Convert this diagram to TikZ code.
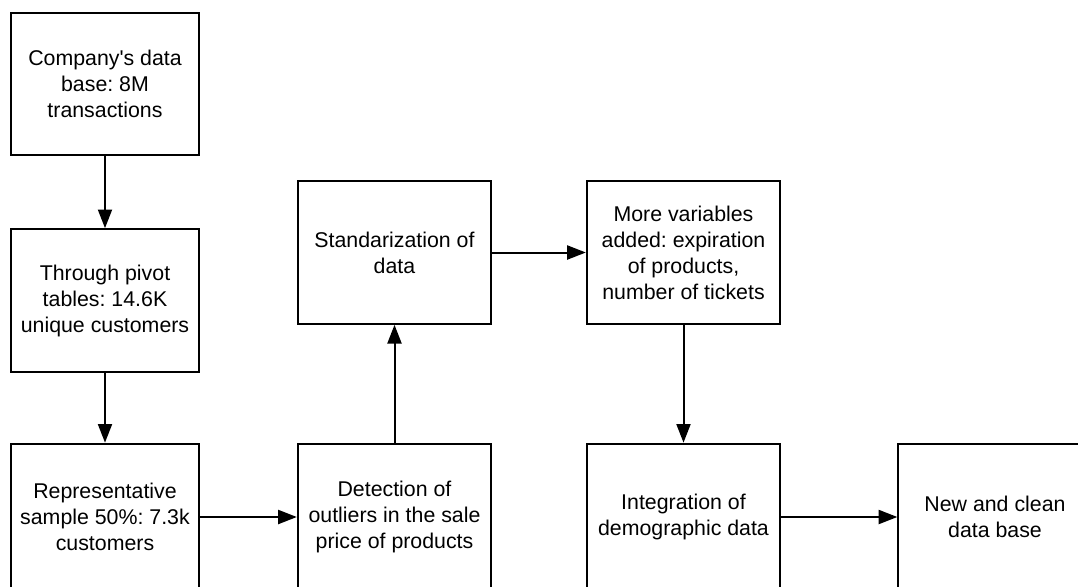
\documentclass[tikz,border=0pt]{standalone}
\usepackage{fontspec}
\setmainfont{Liberation Sans}[Ligatures=TeXOff]
\frenchspacing
\usetikzlibrary{arrows.meta}

\begin{document}
\begin{tikzpicture}[x=0.75pt,y=0.75pt,yscale=-1,
  box/.style={draw,line width=1.5pt,minimum width=145pt,minimum height=107pt,
    inner sep=0pt,align=center,font=\fontsize{16}{19.5}\selectfont},
  flow/.style={-{Triangle[length=14pt,width=10.5pt]},line width=1.5pt}]
%set diagram left start at 0, width 1078, height 586
\useasboundingbox (0,0) rectangle (1078,586);
\clip (0,0) rectangle (1078,586);

%First column
\node [box,minimum width=141pt] (company) at (105,84) {Company's data\\base: 8M\\transactions};
\node [box,minimum width=141pt] (pivot) at (105,300.5) {Through pivot\\tables: 14.6K\\unique customers};
\node [box,minimum width=141pt,minimum height=110pt] (sample) at (105,517) {Representative\\sample 50\%: 7.3k\\customers};

%Second column
\node [box,minimum height=110pt] (outliers) at (394.5,517) {Detection of\\outliers in the sale\\price of products};
\node [box] (standard) at (394.5,252.5) {Standarization of\\data};

%Third column
\node [box] (variables) at (683.5,252.5) {More variables\\added: expiration\\of products,\\number of tickets};
\node [box,minimum height=110pt] (demographic) at (683.5,517) {Integration of\\demographic data};

%Last box, partly out of the frame
\node [box,minimum height=110pt] (cleanbase) at (995,517) {New and clean\\data base};

%Arrows
\draw [flow] (company) -- (pivot);
\draw [flow] (pivot) -- (sample);
\draw [flow] (sample) -- (outliers);
\draw [flow] (outliers) -- (standard);
\draw [flow] (standard) -- (variables);
\draw [flow] (variables) -- (demographic);
\draw [flow] (demographic) -- (cleanbase);

\end{tikzpicture}
\end{document}
